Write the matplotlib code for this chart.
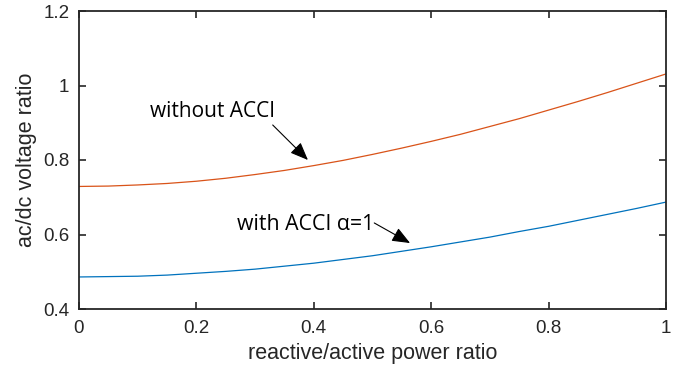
import matplotlib.pyplot as plt

# reactive/active power ratio (x) and ac/dc voltage ratio
ratio = [0.0, 0.05, 0.1, 0.15, 0.2, 0.25, 0.3, 0.35, 0.4, 0.45, 0.5,
         0.55, 0.6, 0.65, 0.7, 0.75, 0.8, 0.85, 0.9, 0.95, 1.0]
without_acci = [0.729, 0.730, 0.733, 0.737, 0.743, 0.751, 0.761, 0.772, 0.785, 0.799, 0.815,
                0.832, 0.850, 0.869, 0.890, 0.911, 0.934, 0.957, 0.981, 1.006, 1.031]
with_acci = [0.486, 0.487, 0.488, 0.491, 0.496, 0.501, 0.507, 0.515, 0.523, 0.533, 0.543,
             0.555, 0.567, 0.580, 0.593, 0.608, 0.622, 0.638, 0.654, 0.670, 0.687]

x_ticks = [0, 0.2, 0.4, 0.6, 0.8, 1]
x_ticklabels = ["0", "0.2", "0.4", "0.6", "0.8", "1"]
y_ticks = [0.4, 0.6, 0.8, 1.0, 1.2]
y_ticklabels = ["0.4", "0.6", "0.8", "1", "1.2"]

plt.rcParams['font.family'] = ['Liberation Sans', 'DejaVu Sans']

fig = plt.figure(figsize=(6.84, 3.73), dpi=100)
ax = fig.add_axes([79 / 684, 1 - 309 / 373, 587 / 684, 298 / 373])

ax.plot(ratio, with_acci, color='#0072BD', linewidth=0.9)
ax.plot(ratio, without_acci, color='#D95319', linewidth=0.9)

ax.set_xlim(0, 1)
ax.set_ylim(0.4, 1.2)
ax.set_xticks(x_ticks)
ax.set_xticklabels(x_ticklabels)
ax.set_yticks(y_ticks)
ax.set_yticklabels(y_ticklabels)
ax.tick_params(direction='in', length=5, width=1.2, colors='#262626',
               labelsize=13.5, top=True, right=True)
ax.tick_params(axis='x', pad=8)
ax.tick_params(axis='y', pad=7)
for s in ax.spines.values():
    s.set_linewidth(1.3)
    s.set_color('#262626')

ax.set_xlabel('reactive/active power ratio', fontsize=15.5, color='#262626', labelpad=4)
ax.set_ylabel('ac/dc voltage ratio', fontsize=15.5, color='#262626', labelpad=4)

# annotations with arrows
arrow = dict(arrowstyle='-|>,head_length=1.1,head_width=0.45', color='black',
             linewidth=0.8, shrinkA=0, shrinkB=0)
ax.annotate('', xy=(0.390, 0.800), xytext=(0.330, 0.894), arrowprops=arrow)
ax.annotate('', xy=(0.564, 0.577), xytext=(0.503, 0.631), arrowprops=arrow)
ax.text(0.121, 0.930, 'without ACCI', fontsize=15, family=['Open Sans', 'DejaVu Sans'],
        va='center', ha='left')
ax.text(0.269, 0.627, 'with ACCI α=1', fontsize=15.3, family=['Open Sans', 'DejaVu Sans'],
        va='center', ha='left')

fig.savefig('out.png', dpi=100)
